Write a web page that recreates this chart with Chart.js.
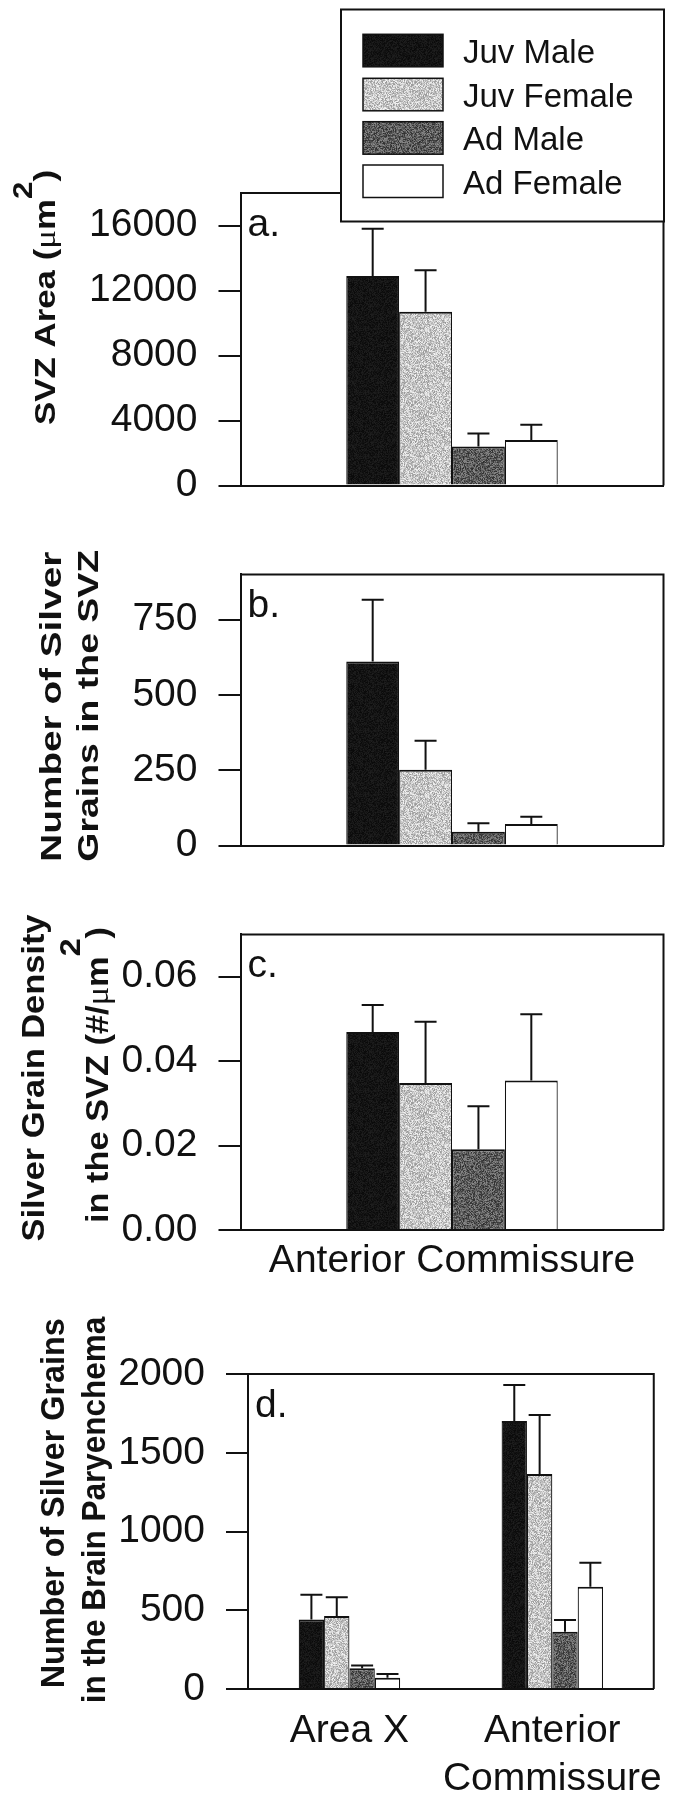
<!DOCTYPE html>
<html>
<head>
<meta charset="utf-8">
<script src="https://cdn.jsdelivr.net/npm/chart.js@4"></script>
<style>
  html, body { margin: 0; padding: 0; background: #ffffff; }
  body { width: 683px; height: 1800px; position: relative; overflow: hidden; }
  canvas { position: absolute; left: 0; }
</style>
</head>
<body>
<canvas id="cA" width="683" height="530" style="top:0px"></canvas>
<canvas id="cB" width="683" height="360" style="top:530px"></canvas>
<canvas id="cC" width="683" height="400" style="top:890px"></canvas>
<canvas id="cD" width="683" height="510" style="top:1290px"></canvas>
<script>
// ---------------- DATA ----------------
const seriesNames = ['Juv Male', 'Juv Female', 'Ad Male', 'Ad Female'];

const svzCategories = ['Anterior Commissure'];
const svzAreaMean = [12900, 10700, 2400, 2800];
const svzAreaSE = [2900, 2550, 800, 950];
const svzGrainsMean = [611, 252, 46, 72];
const svzGrainsSE = [205, 96, 28, 24];
const svzDensityMean = [0.0469, 0.0348, 0.0191, 0.0354];
const svzDensitySE = [0.0064, 0.0145, 0.0102, 0.0157];

const parenCategories = [['Area X'], ['Anterior', 'Commissure']];
const parenAreaXMean = [442, 463, 131, 72];
const parenAreaXSE = [157, 119, 19, 23];
const parenACMean = [1702, 1365, 364, 650];
const parenACSE = [228, 375, 74, 152];

const areaTicks = [0, 4000, 8000, 12000, 16000];
const areaTickLabels = ['0', '4000', '8000', '12000', '16000'];
const grainTicks = [0, 250, 500, 750];
const grainTickLabels = ['0', '250', '500', '750'];
const densityTicks = [0, 0.02, 0.04, 0.06];
const densityTickLabels = ['0.00', '0.02', '0.04', '0.06'];
const parenTicks = [0, 500, 1000, 1500, 2000];
const parenTickLabels = ['0', '500', '1000', '1500', '2000'];

const yMaxArea = 18000, yMaxGrains = 900, yMaxDensity = 0.07, yMaxParen = 2000;

// ---------------- STYLE ----------------
const FAM = "'Liberation Sans', Arial, Helvetica, sans-serif";
const INK = '#111111';
Chart.defaults.font.family = FAM;
Chart.defaults.color = INK;

// deterministic stipple texture (style only)
function stipple(base, amp, seed) {
  const c = document.createElement('canvas');
  c.width = 64; c.height = 64;
  const g = c.getContext('2d');
  const img = g.createImageData(64, 64);
  let h = seed;
  for (let i = 0; i < 64 * 64; i++) {
    h = (h * 1103515245 + 12345) & 0x7fffffff;
    const n = ((h >> 16) & 255) / 255 - 0.5;
    const v = Math.max(0, Math.min(255, Math.round(base + n * amp)));
    img.data[i * 4] = v; img.data[i * 4 + 1] = v; img.data[i * 4 + 2] = v; img.data[i * 4 + 3] = 255;
  }
  g.putImageData(img, 0, 0);
  return g.createPattern(c, 'repeat');
}
const fills = [stipple(20, 22, 7), stipple(198, 95, 11), stipple(92, 95, 23), '#ffffff'];

function rotatedLine(ctx, line, offY) {
  ctx.save();
  ctx.translate(line.x, line.cy - offY);
  ctx.rotate(-Math.PI / 2);
  let w = 0;
  const widths = line.segs.map(s => { ctx.font = s.font; const m = ctx.measureText(s.text).width; w += m; return m; });
  ctx.scale(line.len / w, 1);
  let x = -w / 2;
  ctx.fillStyle = INK;
  ctx.textBaseline = 'alphabetic';
  ctx.textAlign = 'left';
  line.segs.forEach((s, i) => { ctx.font = s.font; ctx.fillText(s.text, x, -(s.rise || 0)); x += widths[i]; });
  ctx.restore();
}

function makePanel(id, g) {
  const ctx = document.getElementById(id).getContext('2d');
  const deco = {
    id: 'deco' + id,
    afterDatasetsDraw(chart) {
      const c = chart.ctx, a = chart.chartArea, ys = chart.scales.y;
      c.save();
      c.strokeStyle = INK; c.lineWidth = 2;
      // error bars
      chart.data.datasets.forEach((ds, i) => {
        const meta = chart.getDatasetMeta(i);
        meta.data.forEach((el, j) => {
          const yTop = ys.getPixelForValue(ds.data[j] + ds.se[j]);
          c.beginPath();
          c.moveTo(el.x, el.y); c.lineTo(el.x, yTop);
          c.moveTo(el.x - 11, yTop); c.lineTo(el.x + 11, yTop);
          c.stroke();
        });
      });
      // frame top and right
      c.beginPath();
      c.moveTo(a.left, a.top); c.lineTo(a.right, a.top); c.lineTo(a.right, a.bottom);
      c.stroke();
      // panel letter
      c.fillStyle = INK; c.font = '39px ' + FAM; c.textAlign = 'left'; c.textBaseline = 'alphabetic';
      c.fillText(g.letter, a.left + 7, a.top + 43);
      c.restore();
    },
    afterDraw(chart) {
      const c = chart.ctx;
      g.titles.forEach(t => rotatedLine(c, t, g.top));
      if (g.legend) {
        const L = g.legend, o = g.top;
        c.save();
        c.fillStyle = '#ffffff'; c.strokeStyle = INK; c.lineWidth = 2;
        c.fillRect(L.x, L.y - o, L.w, L.h); c.strokeRect(L.x, L.y - o, L.w, L.h);
        chart.data.datasets.forEach((ds, i) => {
          const sy = L.rows[i] - o;
          c.fillStyle = ds.backgroundColor;
          c.fillRect(L.sx, sy, L.sw, L.sh);
          c.lineWidth = 1.5; c.strokeStyle = INK;
          c.strokeRect(L.sx, sy, L.sw, L.sh);
          c.fillStyle = INK; c.font = '33px ' + FAM; c.textAlign = 'left'; c.textBaseline = 'alphabetic';
          c.fillText(ds.label, L.tx, sy + 28.5);
        });
        c.restore();
      }
    }
  };
  return new Chart(ctx, {
    type: 'bar',
    data: { labels: g.labels, datasets: g.datasets },
    options: {
      responsive: false, animation: false, devicePixelRatio: 1,
      layout: { padding: { top: g.plotTop - g.top, left: 0, right: 683 - g.plotRight, bottom: 0 } },
      datasets: { bar: { barPercentage: 1.0, categoryPercentage: 0.5, borderColor: INK,
        borderWidth: { top: 2, left: 1.2, right: 1.2, bottom: 0 }, borderSkipped: 'start' } },
      plugins: { legend: { display: false }, tooltip: { enabled: false } },
      scales: {
        x: {
          type: 'category',
          grid: { display: false, drawTicks: false },
          border: { display: true, color: INK, width: 2 },
          ticks: { display: g.showX, font: { size: 39, lineHeight: g.xLineHeight }, color: INK, padding: g.xPad, maxRotation: 0, autoSkip: false },
          afterFit: s => { s.height = g.top + g.height - g.plotBottom; }
        },
        y: {
          type: 'linear', min: 0, max: g.yMax,
          afterBuildTicks: s => { s.ticks = g.ticks.map(v => ({ value: v })); },
          ticks: { callback: (v, i) => g.tickLabels[i], font: { size: 39 }, color: INK, padding: 21, autoSkip: false },
          grid: { drawOnChartArea: false, drawTicks: true, tickLength: 22, color: INK, lineWidth: 2 },
          border: { display: true, color: INK, width: 2 },
          afterFit: s => { s.width = g.plotLeft; }
        }
      }
    },
    plugins: [deco]
  });
}

function seriesSets(means, ses) {
  return seriesNames.map((n, i) => ({
    label: n,
    data: means.map(m => m[i]),
    se: ses.map(s => s[i]),
    backgroundColor: fills[i]
  }));
}

const B30 = 'bold 30px ' + FAM, MU = "30px 'Liberation Serif', serif";

makePanel('cA', {
  top: 0, height: 530, plotLeft: 240.5, plotRight: 663.5, plotTop: 193, plotBottom: 509,
  labels: svzCategories, datasets: seriesSets([svzAreaMean], [svzAreaSE]),
  yMax: yMaxArea, ticks: areaTicks, tickLabels: areaTickLabels, showX: false, xPad: 0, xLineHeight: 1.2,
  letter: 'a.',
  titles: [{ x: 55, cy: 297.5, len: 255, segs: [
    { text: 'SVZ Area (', font: B30 }, { text: 'μ', font: MU }, { text: 'm', font: B30 },
    { text: '2', font: 'bold 27px ' + FAM, rise: 23 }, { text: ')', font: B30 } ] }],
  legend: { x: 341, y: 9.5, w: 323, h: 212, sx: 363, sw: 80, sh: 32.5, tx: 463, rows: [34.3, 78.3, 121.7, 165] }
});

makePanel('cB', {
  top: 530, height: 360, plotLeft: 240.5, plotRight: 663.5, plotTop: 549, plotBottom: 866,
  labels: svzCategories, datasets: seriesSets([svzGrainsMean], [svzGrainsSE]),
  yMax: yMaxGrains, ticks: grainTicks, tickLabels: grainTickLabels, showX: false, xPad: 0, xLineHeight: 1.2,
  letter: 'b.',
  titles: [
    { x: 60.5, cy: 706.7, len: 310, segs: [{ text: 'Number of Silver', font: B30 }] },
    { x: 98.3, cy: 705.8, len: 311.7, segs: [{ text: 'Grains in the SVZ', font: B30 }] } ]
});

makePanel('cC', {
  top: 890, height: 400, plotLeft: 240.5, plotRight: 663.5, plotTop: 914.5, plotBottom: 1230,
  labels: svzCategories, datasets: seriesSets([svzDensityMean], [svzDensitySE]),
  yMax: yMaxDensity, ticks: densityTicks, tickLabels: densityTickLabels, showX: true, xPad: 8, xLineHeight: 1.2,
  letter: 'c.',
  titles: [
    { x: 44, cy: 1078, len: 327, segs: [{ text: 'Silver Grain Density', font: 'bold 31px ' + FAM }] },
    { x: 108, cy: 1075, len: 296, segs: [
      { text: 'in the SVZ (#/', font: 'bold 32px ' + FAM }, { text: 'μ', font: "32px 'Liberation Serif', serif" },
      { text: 'm', font: 'bold 32px ' + FAM }, { text: '2', font: 'bold 30px ' + FAM, rise: 28 },
      { text: ')', font: 'bold 32px ' + FAM } ] } ]
});

makePanel('cD', {
  top: 1290, height: 510, plotLeft: 248, plotRight: 670, plotTop: 1374, plotBottom: 1689,
  labels: parenCategories, datasets: seriesSets([parenAreaXMean, parenACMean], [parenAreaXSE, parenACSE]),
  yMax: yMaxParen, ticks: parenTicks, tickLabels: parenTickLabels, showX: true, xPad: 18, xLineHeight: 1.23,
  letter: 'd.',
  titles: [
    { x: 64, cy: 1503.3, len: 370, segs: [{ text: 'Number of Silver Grains', font: 'bold 34px ' + FAM }] },
    { x: 105, cy: 1510, len: 386.7, segs: [{ text: 'in the Brain Paryenchema', font: 'bold 34px ' + FAM }] } ]
});
</script>
</body>
</html>
